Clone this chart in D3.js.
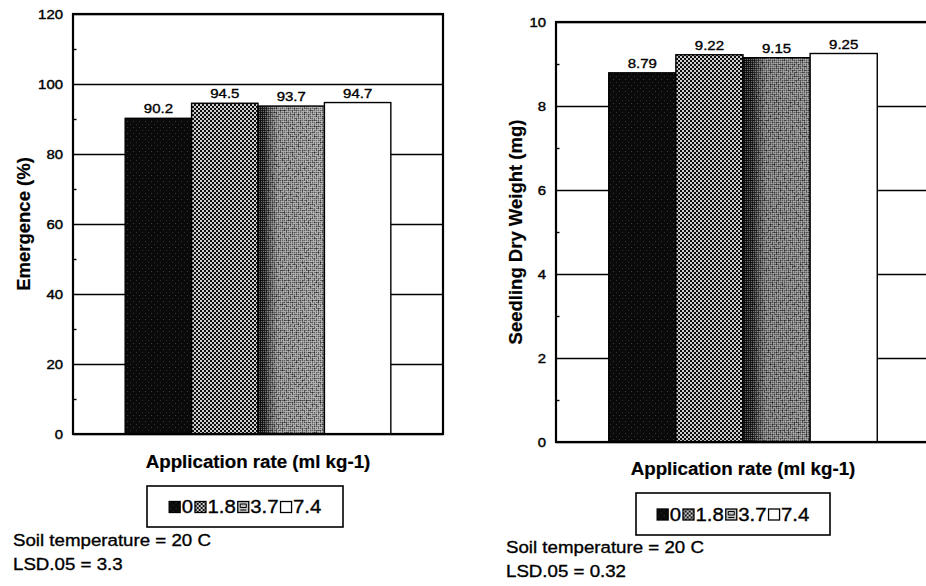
<!DOCTYPE html>
<html>
<head>
<meta charset="utf-8">
<script src="https://cdn.jsdelivr.net/npm/d3@7"></script>
<style>
  body { margin: 0; background: #fff; }
  svg { display: block; }
  text { font-family: Arial, "Liberation Sans", sans-serif; fill: #000; }
</style>
</head>
<body>
<svg id="chart" width="926" height="586"></svg>
<script>
// Application rates (ml kg-1), one bar per rate
const rates = ["0", "1.8", "3.7", "7.4"];

// Emergence (%) at each rate
const emergence = [90.2, 94.5, 93.7, 94.7];
const emergenceTicks = [0, 20, 40, 60, 80, 100, 120];
const emergenceMinor = [10, 30, 50, 70, 90, 110];

// Seedling dry weight (mg) at each rate
const dryWeight = [8.79, 9.22, 9.15, 9.25];
const weightTicks = [0, 2, 4, 6, 8, 10];
const weightMinor = [1, 3, 5, 7, 9];

const xTitle = "Application rate (ml kg-1)";
const emergenceTitle = "Emergence (%)";
const weightTitle = "Seedling Dry Weight (mg)";
const soilNote = "Soil temperature = 20 C";
const emergenceLsd = "LSD.05 = 3.3";
const weightLsd = "LSD.05 = 0.32";

const svg = d3.select("#chart");
const defs = svg.append("defs");

// --- fills for the four treatments ---
// 0: near-black with sparse grey specks
const pSolid = defs.append("pattern").attr("id", "fill-solid")
  .attr("patternUnits", "userSpaceOnUse").attr("width", 6).attr("height", 6);
pSolid.append("rect").attr("width", 6).attr("height", 6).attr("fill", "#0a0a0a");
pSolid.append("rect").attr("x", 1).attr("y", 1).attr("width", 1).attr("height", 1).attr("fill", "#3a3a3a");
pSolid.append("rect").attr("x", 4).attr("y", 4).attr("width", 1).attr("height", 1).attr("fill", "#303030");

// 1.8: light dots on black, diagonal lattice
const pDots = defs.append("pattern").attr("id", "fill-dots")
  .attr("patternUnits", "userSpaceOnUse").attr("width", 4).attr("height", 4);
pDots.append("rect").attr("width", 4).attr("height", 4).attr("fill", "#0e0e0e");
pDots.append("rect").attr("x", 0).attr("y", 0).attr("width", 2).attr("height", 2).attr("fill", "#cfcfcf");
pDots.append("rect").attr("x", 2).attr("y", 2).attr("width", 2).attr("height", 2).attr("fill", "#cfcfcf");

// 3.7: fine grey checker over a ramp that darkens to the left, with grain
function addRamp(id, stops) {
  const ramp = defs.append("linearGradient").attr("id", id)
    .attr("x1", "0%").attr("x2", "100%").attr("y1", "0%").attr("y2", "0%");
  stops.forEach(([o, c]) => ramp.append("stop").attr("offset", o).attr("stop-color", c));
}
addRamp("ramp-grey-a", [["0%", "#111"], ["10%", "#2a2a2a"], ["18%", "#6a6a6a"], ["30%", "#a4a4a4"], ["100%", "#b4b4b4"]]);
addRamp("ramp-grey-b", [["0%", "#111"], ["14%", "#262626"], ["24%", "#5e5e5e"], ["34%", "#8e8e8e"], ["100%", "#9c9c9c"]]);

const pCheck = defs.append("pattern").attr("id", "fill-check")
  .attr("patternUnits", "userSpaceOnUse").attr("width", 2).attr("height", 2);
pCheck.append("rect").attr("x", 0).attr("y", 0).attr("width", 1).attr("height", 1).attr("fill", "#000").attr("fill-opacity", 0.4);
pCheck.append("rect").attr("x", 1).attr("y", 1).attr("width", 1).attr("height", 1).attr("fill", "#fff").attr("fill-opacity", 0.4);

const grain = defs.append("filter").attr("id", "grain")
  .attr("x", 0).attr("y", 0).attr("width", "100%").attr("height", "100%");
grain.append("feTurbulence").attr("type", "fractalNoise").attr("baseFrequency", 0.5)
  .attr("numOctaves", 3).attr("seed", 7).attr("result", "noise");
grain.append("feColorMatrix").attr("in", "noise").attr("type", "matrix")
  .attr("values", "0 0 0 0 0  0 0 0 0 0  0 0 0 0 0  3 0 0 0 -1.3").attr("result", "specks");
grain.append("feComposite").attr("in", "specks").attr("in2", "SourceGraphic").attr("operator", "in");

const fillsLeft = ["url(#fill-solid)", "url(#fill-dots)", "url(#ramp-grey-a)", "#fff"];
const fillsRight = ["url(#fill-solid)", "url(#fill-dots)", "url(#ramp-grey-b)", "#fff"];

// text with a slight horizontal stretch
function label(parent, x, y, str, size, opts = {}) {
  const sx = opts.sx || 1;
  return parent.append("text")
    .attr("transform", `translate(${x},${y}) scale(${sx},1)`)
    .attr("font-size", size)
    .attr("font-weight", opts.weight || "normal")
    .attr("text-anchor", opts.anchor || "start")
    .attr("stroke", "#000").attr("stroke-width", opts.weight === "bold" ? 0.2 : 0.35)
    .text(str);
}

function drawBar(g, fills, x0, y0, w, h, i) {
  g.append("rect").attr("x", x0).attr("y", y0).attr("width", w).attr("height", h)
    .attr("fill", fills[i]);
  if (i === 2) {
    g.append("rect").attr("x", x0).attr("y", y0).attr("width", w).attr("height", h)
      .attr("fill", "url(#fill-check)");
    g.append("rect").attr("x", x0).attr("y", y0).attr("width", w).attr("height", h)
      .attr("fill", "#000").attr("filter", "url(#grain)").attr("opacity", 0.6);
  }
  g.append("rect").attr("x", x0).attr("y", y0).attr("width", w).attr("height", h)
    .attr("fill", "none").attr("stroke", "#000").attr("stroke-width", 1.4);
}

function drawLegend(g, box) {
  g.append("rect").attr("x", box.x).attr("y", box.y).attr("width", box.w).attr("height", box.h)
    .attr("fill", "#fff").attr("stroke", "#000").attr("stroke-width", 1.6);
  const item = g.append("g");
  const sym = 12, sx = 1.1, fs = 18.5;
  let cx = 0;
  rates.forEach((r, i) => {
    const top = -sym;
    if (i === 2) {
      item.append("rect").attr("x", cx + 0.5).attr("y", top + 0.5).attr("width", sym - 1).attr("height", sym - 1)
        .attr("fill", "#c4c4c4").attr("stroke", "#000").attr("stroke-width", 1.3);
      item.append("path").attr("d", `M${cx + 3},${top + 3}h6v3.5h-6zM${cx + 3},${top + 9}h6`)
        .attr("fill", "none").attr("stroke", "#000").attr("stroke-width", 1);
    } else {
      item.append("rect").attr("x", cx + 0.5).attr("y", top + 0.5).attr("width", sym - 1).attr("height", sym - 1)
        .attr("fill", fillsLeft[i]).attr("stroke", "#000").attr("stroke-width", 1.3);
    }
    cx += sym + 1;
    const t = label(item, cx, 0, r, fs, { sx });
    cx += t.node().getComputedTextLength() * sx + 1.5;
  });
  const total = cx - 1.5;
  item.attr("transform", `translate(${box.x + (box.w - total) / 2},${box.y + box.h / 2 + 6.5})`);
}

function drawPanel(cfg) {
  const p = cfg.plot;
  const g = svg.append("g");
  const w = p.x1 - p.x0;
  const y = d3.scaleLinear().domain([0, cfg.max]).range([p.y1, p.y0]);
  const inset = w * 0.141;
  const x = d3.scaleBand().domain(rates).range([p.x0 + inset, p.x1 - inset]).paddingInner(0);

  // major gridlines
  g.append("g").attr("transform", `translate(${p.x0},0)`)
    .call(d3.axisLeft(y).tickValues(cfg.ticks).tickSize(-w).tickFormat(""))
    .call(s => {
      s.select(".domain").remove();
      s.selectAll("line").attr("stroke", "#000").attr("stroke-width", 1.6);
    });

  // bars
  cfg.values.forEach((v, i) => {
    drawBar(g, cfg.fills, x(rates[i]), y(v), x.bandwidth(), y(0) - y(v), i);
  });

  // plot frame
  g.append("rect").attr("x", p.x0).attr("y", p.y0).attr("width", w).attr("height", p.y1 - p.y0)
    .attr("fill", "none").attr("stroke", "#000").attr("stroke-width", 2.2);

  // minor ticks pointing into the plot
  g.append("g").attr("transform", `translate(${p.x0},0)`)
    .call(d3.axisLeft(y).tickValues(cfg.minor).tickSize(-3.5).tickFormat(""))
    .call(s => {
      s.select(".domain").remove();
      s.selectAll("line").attr("stroke", "#000").attr("stroke-width", 1.4);
    });

  // tick labels
  const tsx = 1.15;
  g.append("g").attr("transform", `translate(${p.x0},0)`)
    .call(d3.axisLeft(y).tickValues(cfg.ticks).tickSize(0).tickPadding(0))
    .call(s => {
      s.select(".domain").remove();
      s.attr("font-family", null).attr("font-size", null);
      s.selectAll("text").attr("x", -10 / tsx).attr("dy", "0.36em")
        .attr("transform", `scale(${tsx},1)`).attr("font-size", 13)
        .attr("stroke", "#000").attr("stroke-width", 0.4);
    });

  // value labels above the bars
  cfg.values.forEach((v, i) => {
    label(g, x(rates[i]) + x.bandwidth() / 2, y(v) - 5, String(v), 12.5, { sx: 1.2, anchor: "middle" });
  });

  // axis titles
  label(g, (p.x0 + p.x1) / 2, cfg.xTitleY, xTitle, 18, { weight: "bold", sx: 1.04, anchor: "middle" });
  g.append("text")
    .attr("transform", `translate(${cfg.yTitleX},${(p.y0 + p.y1) / 2}) rotate(-90)`)
    .attr("font-size", 18.5).attr("font-weight", "bold").attr("text-anchor", "middle")
    .attr("stroke", "#000").attr("stroke-width", 0.2)
    .attr("dy", "0.35em").text(cfg.yTitle);

  drawLegend(g, cfg.legend);

  label(g, cfg.noteX, cfg.noteY[0], soilNote, 17, { sx: 1.1 });
  label(g, cfg.noteX, cfg.noteY[1], cfg.lsd, 17, { sx: 1.1 });
}

drawPanel({
  plot: { x0: 73, x1: 443, y0: 14, y1: 434 },
  max: 120, ticks: emergenceTicks, minor: emergenceMinor, values: emergence,
  fills: fillsLeft,
  yTitle: emergenceTitle, yTitleX: 24, xTitleY: 468,
  legend: { x: 147, y: 486, w: 196, h: 41 },
  noteX: 13, noteY: [546, 570], lsd: emergenceLsd
});

drawPanel({
  plot: { x0: 556, x1: 930, y0: 22, y1: 442 },
  max: 10, ticks: weightTicks, minor: weightMinor, values: dryWeight,
  fills: fillsRight,
  yTitle: weightTitle, yTitleX: 516, xTitleY: 475,
  legend: { x: 636, y: 493, w: 194, h: 42 },
  noteX: 506, noteY: [553, 577], lsd: weightLsd
});
</script>
</body>
</html>
